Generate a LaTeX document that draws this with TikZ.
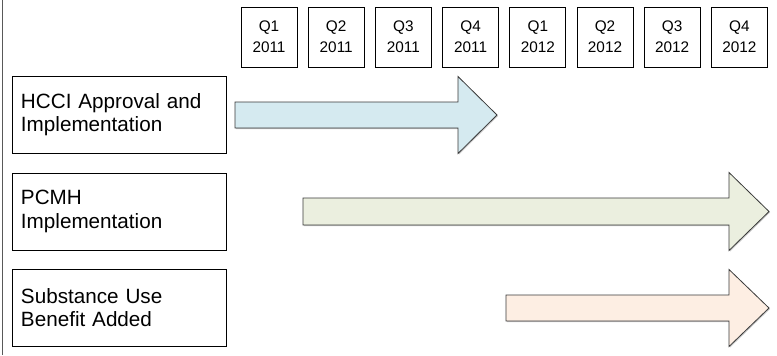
\documentclass[tikz,border=0pt]{standalone}
\usepackage{fontspec}
\setmainfont{Liberation Sans}
\definecolor{arrblue}{HTML}{D5EAF0}
\definecolor{arrgreen}{HTML}{EBEFDF}
\definecolor{arrpeach}{HTML}{FDEEE3}
\definecolor{edgegray}{HTML}{3A3A3A}
\tikzset{
  qbox/.style={draw=black, line width=0.6pt, minimum width=42pt, minimum height=45pt,
    inner sep=0pt, align=center, font=\fontsize{11.5}{15.5}\selectfont},
  lbox/.style={draw=black, line width=0.7pt, minimum width=160.5pt, minimum height=57.75pt,
    inner sep=0pt, text width=147pt, align=left, font=\fontsize{15.5}{17.5}\selectfont},
  bigarrow/.style={draw=edgegray, line width=0.6pt, line join=miter},
  shade/.style={fill=black!22, draw=none},
}
\newcommand{\timearrow}[7]{%
  % #1 left x, #2 head base x, #3 tip x, #4 center y, #5 shaft half height, #6 head half height, #7 fill
  \fill[shade] (#1+1,#4-#5+1) -- (#2+1,#4-#5+1) -- (#2+1,#4-#6+1) -- (#3+1,#4+1)
    -- (#2+1,#4+#6+1) -- (#2+1,#4+#5+1) -- (#1+1,#4+#5+1) -- cycle;
  \draw[bigarrow, fill=#7] (#1,#4-#5) -- (#2,#4-#5) -- (#2,#4-#6) -- (#3,#4)
    -- (#2,#4+#6) -- (#2,#4+#5) -- (#1,#4+#5) -- cycle;}
\begin{document}
\begin{tikzpicture}[x=0.75pt,y=-0.75pt]
\useasboundingbox (0,0) rectangle (777,355);
% left frame line
\draw[line width=1pt, black!65] (2.5,0) -- (2.5,355);
% quarter boxes
\foreach \q/\yr [count=\i from 0] in {Q1/2011,Q2/2011,Q3/2011,Q4/2011,Q1/2012,Q2/2012,Q3/2012,Q4/2012}{
  \node[qbox] (q\i) at ({269+67.2*\i},37) {\q\\\yr};
}
% label boxes
\node[lbox] (hcci) at (119,114.5) {HCCI Approval and\\Implementation};
\node[lbox] (pcmh) at (119,211.5) {PCMH\\Implementation};
\node[lbox] (subst) at (119,307.5) {Substance Use\\Benefit Added};
% arrows
\timearrow{235}{458}{497}{115}{13}{38.5}{arrblue}
\timearrow{303}{729}{769}{211.5}{13.5}{39}{arrgreen}
\timearrow{506}{729}{769}{308}{13}{38.5}{arrpeach}
\end{tikzpicture}
\end{document}
